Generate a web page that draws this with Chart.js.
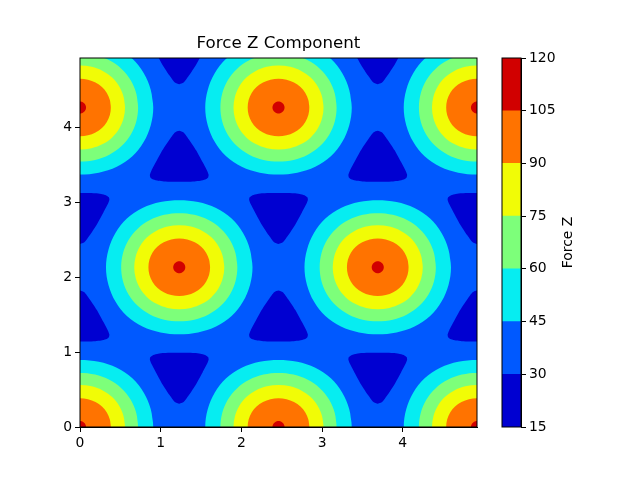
<!DOCTYPE html>
<html>
<head>
<meta charset="utf-8">
<script src="https://cdn.jsdelivr.net/npm/chart.js@4/dist/chart.umd.min.js"></script>
<style>
  body { margin: 0; background: #fff; }
  canvas { position: absolute; left: 0; top: 0; }
</style>
</head>
<body>
<canvas id="field" width="640" height="480"></canvas>
<canvas id="bar" width="640" height="480"></canvas>
<script>
// band edges and colours of the filled contour
var levels = [15, 30, 45, 60, 75, 90, 105, 120];
var bandColors = ["rgb(0,0,209)", "rgb(0,89,255)", "rgb(6,237,241)", "rgb(125,255,122)",
                  "rgb(241,252,6)", "rgb(255,115,0)", "rgb(209,0,0)"];
var xTicks = [0, 1, 2, 3, 4];
var yTicks = [0, 1, 2, 3, 4];
var extent = [0, 4.92];

// force maxima
var peakX = [0, 2.46, 4.92, 1.23, 3.69, 0, 2.46, 4.92];
var peakY = [0, 0, 0, 2.13, 2.13, 4.26, 4.26, 4.26];

// contour radius round a maximum, read every 15 degrees from 0 to 90 (the rest mirrors it)
var radii45 = [0.908, 0.908, 0.913, 0.918, 0.912, 0.900, 0.893];
var radii60 = [0.720, 0.722, 0.726, 0.728, 0.726, 0.723, 0.720];
var radii75 = [0.558, 0.559, 0.562, 0.564, 0.563, 0.561, 0.560];
var radii90 = [0.382, 0.383, 0.384, 0.385, 0.384, 0.383, 0.382];
var radii105 = [0.075, 0.075, 0.076, 0.077, 0.078, 0.079, 0.080];
var peakBands = [radii45, radii60, radii75, radii90, radii105];

// force minima, the 15-30 band is a rounded triangle
var upX = [1.23, 3.69, 2.46, 0, 4.92];
var upY = [3.55, 3.55, 1.42, 1.42, 1.42];
var downX = [1.23, 3.69, 2.46, 0, 4.92, 1.23, 3.69];
var downY = [0.71, 0.71, 2.84, 2.84, 2.84, 4.97, 4.97];
// right half of the outline, apex to base
var triDx = [0, 0.054, 0.120, 0.207, 0.289, 0.345, 0.364, 0.358, 0.322, 0.262, 0.190, 0.091, 0];
var triDy = [0.400, 0.378, 0.284, 0.142, -0.018, -0.133, -0.187, -0.222, -0.251, -0.268, -0.276, -0.280, -0.280];

var FONT = "'DejaVu Sans'";
var datasets = [];

function addShape(pts, color, tension) {
  // run over the start again so the curve closes smoothly
  pts = pts.concat([pts[0], pts[1]]);
  datasets.push({
    data: pts,
    showLine: true,
    fill: "shape",
    backgroundColor: color,
    borderWidth: 0,
    pointRadius: 0,
    tension: tension,
    capBezierPoints: false,
    order: -datasets.length
  });
}

addShape([{x: extent[0], y: extent[0]}, {x: extent[1], y: extent[0]},
          {x: extent[1], y: extent[1]}, {x: extent[0], y: extent[1]}], bandColors[1], 0);

function ringPoints(radii, cx, cy) {
  var pts = [];
  for (var i = 0; i < 24; i++) {
    var q = i % 12;                  // 0..11 inside the half turn
    var k = q <= 6 ? q : 12 - q;
    var a = i * Math.PI / 12;
    pts.push({x: cx + radii[k] * Math.cos(a), y: cy + radii[k] * Math.sin(a)});
  }
  return pts;
}

peakBands.forEach(function (radii, b) {
  peakX.forEach(function (px, p) {
    addShape(ringPoints(radii, px, peakY[p]), bandColors[b + 2], 0.34);
  });
});

function triPoints(cx, cy, dir) {
  var pts = [];
  var n = triDx.length;
  for (var i = 0; i < n; i++) pts.push({x: cx + triDx[i], y: cy + dir * triDy[i]});
  for (var j = n - 2; j > 0; j--) pts.push({x: cx - triDx[j], y: cy + dir * triDy[j]});
  return pts;
}

upX.forEach(function (cx, t) {
  addShape(triPoints(cx, upY[t], 1), bandColors[0], 0.2);
});
downX.forEach(function (cx, t) {
  addShape(triPoints(cx, downY[t], -1), bandColors[0], 0.2);
});

var frame = {
  id: "frame",
  afterDraw: function (chart) {
    var a = chart.chartArea, c = chart.ctx;
    c.save();
    c.strokeStyle = "#000";
    c.lineWidth = 1;
    c.strokeRect(a.left, a.top, a.right - a.left, a.bottom - a.top);
    c.restore();
  }
};

function axisGrid() {
  return {drawOnChartArea: false, color: "#000", tickLength: 5, lineWidth: 1};
}

new Chart(document.getElementById("field"), {
  type: "scatter",
  data: {datasets: datasets},
  plugins: [frame],
  options: {
    responsive: false,
    animation: false,
    events: [],
    devicePixelRatio: 1,
    layout: {padding: {left: 0, right: 163, top: 0, bottom: 0}},
    plugins: {
      legend: {display: false},
      tooltip: {enabled: false},
      title: {
        display: true,
        text: "Force Z Component",
        color: "#000",
        fullSize: false,
        font: {family: FONT, size: 16.67, weight: "normal"},
        padding: {top: 34, bottom: 4}
      }
    },
    scales: {
      x: {
        type: "linear",
        min: extent[0],
        max: extent[1],
        grid: axisGrid(),
        border: {color: "#000"},
        afterBuildTicks: function (s) { s.ticks = xTicks.map(function (v) { return {value: v}; }); },
        ticks: {color: "#000", font: {family: FONT, size: 13.9}, padding: 3, maxRotation: 0},
        afterFit: function (s) { s.height = 53; }
      },
      y: {
        type: "linear",
        min: extent[0],
        max: extent[1],
        grid: axisGrid(),
        border: {color: "#000"},
        afterBuildTicks: function (s) { s.ticks = yTicks.map(function (v) { return {value: v}; }); },
        ticks: {color: "#000", font: {family: FONT, size: 13.9}, padding: 3},
        afterFit: function (s) { s.width = 80; }
      }
    }
  }
});

// colour bar
var barSets = bandColors.map(function (col, i) {
  return {
    data: [[levels[i], levels[i + 1]]],
    backgroundColor: col,
    borderWidth: 0,
    grouped: false,
    barPercentage: 1,
    categoryPercentage: 1
  };
});

var barLabel = {
  id: "barLabel",
  afterDraw: function (chart) {
    var c = chart.ctx, a = chart.chartArea;
    c.save();
    c.translate(a.right + 47, (a.top + a.bottom) / 2);
    c.rotate(-Math.PI / 2);
    c.fillStyle = "#000";
    c.font = "13.9px " + FONT;
    c.textAlign = "center";
    c.textBaseline = "middle";
    c.fillText("Force Z", 0, 0);
    c.restore();
  }
};

new Chart(document.getElementById("bar"), {
  type: "bar",
  data: {labels: [""], datasets: barSets},
  plugins: [frame, barLabel],
  options: {
    responsive: false,
    animation: false,
    events: [],
    devicePixelRatio: 1,
    layout: {padding: {left: 502, right: 0, top: 58, bottom: 53}},
    plugins: {legend: {display: false}, tooltip: {enabled: false}},
    scales: {
      x: {display: false},
      y: {
        position: "right",
        min: levels[0],
        max: levels[levels.length - 1],
        grid: axisGrid(),
        border: {color: "#000"},
        afterBuildTicks: function (s) { s.ticks = levels.map(function (v) { return {value: v}; }); },
        ticks: {color: "#000", font: {family: FONT, size: 13.9}, padding: 3},
        afterFit: function (s) { s.width = 119; }
      }
    }
  }
});
</script>
</body>
</html>
